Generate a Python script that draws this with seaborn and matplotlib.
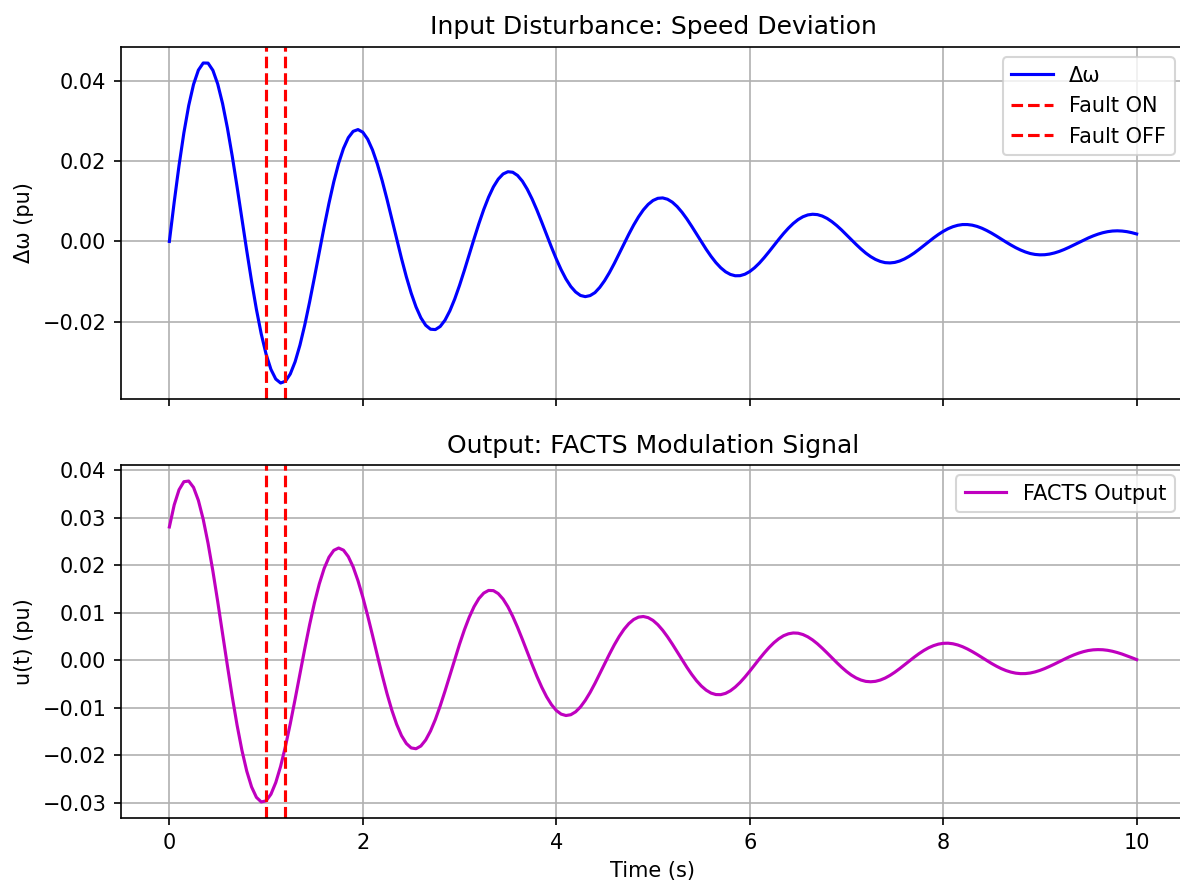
import numpy as np
import pandas as pd
import matplotlib
matplotlib.use("Agg")
import matplotlib.pyplot as plt
import seaborn as sns

# Time grid (s), 0.05 s steps from 0 to 10
time_s = np.linspace(0, 10, 201)

# Speed deviation (pu) at 0.05 s steps
delta_omega = [
    0.0, 0.00979, 0.01889, 0.02699, 0.03378, 0.03904, 0.04259, 0.04436, 0.04433, 0.04254,
    0.03913, 0.03428, 0.02821, 0.02121, 0.01358, 0.00563, -0.00230, -0.00990, -0.01689, -0.02301,
    -0.02803, -0.03180, -0.03421, -0.03519, -0.03475, -0.03295, -0.02991, -0.02577, -0.02074, -0.01503,
    -0.00891, -0.00261, 0.00360, 0.00949, 0.01484, 0.01944, 0.02312, 0.02579, 0.02737, 0.02781,
    0.02715, 0.02543, 0.02276, 0.01927, 0.01512, 0.01049, 0.00559, 0.00061, -0.00424, -0.00879,
    -0.01285, -0.01628, -0.01897, -0.02084, -0.02182, -0.02191, -0.02114, -0.01956, -0.01724, -0.01432,
    -0.01091, -0.00717, -0.00327, 0.00065, 0.00443, 0.00793, 0.01100, 0.01356, 0.01549, 0.01677,
    0.01733, 0.01720, 0.01640, 0.01497, 0.01298, 0.01056, 0.00779, 0.00478, 0.00167, -0.00141,
    -0.00434, -0.00701, -0.00933, -0.01120, -0.01256, -0.01343, -0.01372, -0.01346, -0.01272, -0.01141,
    -0.00973, -0.00772, -0.00547, -0.00306, -0.00061, 0.00180, 0.00407, 0.00610, 0.00784, 0.00921,
    0.01018, 0.01072, 0.01082, 0.01049, 0.00976, 0.00866, 0.00725, 0.00560, 0.00377, 0.00185,
    -0.00009, -0.00196, -0.00370, -0.00525, -0.00654, -0.00754, -0.00820, -0.00853, -0.00851, -0.00815,
    -0.00748, -0.00654, -0.00537, -0.00401, -0.00254, -0.00102, 0.00051, 0.00197, 0.00330, 0.00447,
    0.00543, 0.00614, 0.00659, 0.00676, 0.00667, 0.00631, 0.00572, 0.00491, 0.00394, 0.00284,
    0.00166, 0.00045, -0.00074, -0.00187, -0.00290, -0.00377, -0.00447, -0.00497, -0.00527, -0.00534,
    -0.00521, -0.00487, -0.00435, -0.00367, -0.00288, -0.00198, -0.00103, -0.00008, 0.00086, 0.00173,
    0.00250, 0.00316, 0.00366, 0.00401, 0.00420, 0.00420, 0.00405, 0.00374, 0.00329, 0.00272,
    0.00207, 0.00135, 0.00059, -0.00016, -0.00088, -0.00155, -0.00213, -0.00262, -0.00300, -0.00323,
    -0.00333, -0.00330, -0.00314, -0.00286, -0.00248, -0.00201, -0.00147, -0.00089, -0.00029, 0.00030,
    0.00086, 0.00137, 0.00181, 0.00217, 0.00243, 0.00259, 0.00264, 0.00258, 0.00243, 0.00218,
    0.00186,
]

# FACTS modulation signal (pu) at 0.05 s steps
facts_u = [
    0.02802, 0.03265, 0.03584, 0.03753, 0.03767, 0.03633, 0.03360, 0.02962, 0.02458, 0.01873,
    0.01231, 0.00559, -0.00115, -0.00765, -0.01365, -0.01893, -0.02331, -0.02664, -0.02883, -0.02980,
    -0.02957, -0.02818, -0.02572, -0.02232, -0.01813, -0.01335, -0.00819, -0.00286, 0.00244, 0.00747,
    0.01207, 0.01604, 0.01928, 0.02165, 0.02310, 0.02359, 0.02314, 0.02178, 0.01962, 0.01672,
    0.01326, 0.00938, 0.00525, 0.00102, -0.00311, -0.00701, -0.01051, -0.01349, -0.01586, -0.01751,
    -0.01844, -0.01861, -0.01804, -0.01677, -0.01488, -0.01246, -0.00961, -0.00647, -0.00317, 0.00016,
    0.00338, 0.00638, 0.00904, 0.01126, 0.01297, 0.01411, 0.01467, 0.01463, 0.01401, 0.01286,
    0.01124, 0.00922, 0.00689, 0.00436, 0.00174, -0.00088, -0.00339, -0.00568, -0.00769, -0.00933,
    -0.01056, -0.01133, -0.01163, -0.01146, -0.01085, -0.00983, -0.00844, -0.00677, -0.00487, -0.00284,
    -0.00076, 0.00129, 0.00323, 0.00498, 0.00649, 0.00769, 0.00856, 0.00906, 0.00919, 0.00895,
    0.00837, 0.00747, 0.00630, 0.00492, 0.00339, 0.00177, 0.00012, -0.00148, -0.00297, -0.00431,
    -0.00543, -0.00630, -0.00691, -0.00722, -0.00724, -0.00697, -0.00643, -0.00565, -0.00468, -0.00355,
    -0.00231, -0.00102, 0.00028, 0.00152, 0.00267, 0.00368, 0.00451, 0.00515, 0.00555, 0.00573,
    0.00568, 0.00540, 0.00492, 0.00426, 0.00345, 0.00252, 0.00153, 0.00050, -0.00051, -0.00148,
    -0.00236, -0.00312, -0.00373, -0.00417, -0.00445, -0.00453, -0.00444, -0.00417, -0.00375, -0.00319,
    -0.00252, -0.00177, -0.00097, -0.00016, 0.00063, 0.00138, 0.00205, 0.00262, 0.00306, 0.00338,
    0.00355, 0.00358, 0.00346, 0.00321, 0.00284, 0.00237, 0.00182, 0.00122, 0.00058, -0.00006,
    -0.00068, -0.00125, -0.00176, -0.00218, -0.00250, -0.00272, -0.00282, -0.00281, -0.00269, -0.00246,
    -0.00214, -0.00175, -0.00130, -0.00082, -0.00031, 0.00019, 0.00067, 0.00111, 0.00149, 0.00180,
    0.00204, 0.00218, 0.00223, 0.00220, 0.00208, 0.00188, 0.00161, 0.00129, 0.00092, 0.00053,
    0.00013,
]

fault_on = 1.0
fault_off = 1.2

df = pd.DataFrame({"t": time_s, "dw": delta_omega, "u": facts_u})

W, H, DPI = 1180, 882, 150
fig, (ax1, ax2) = plt.subplots(2, 1, figsize=(W / DPI, H / DPI), dpi=DPI, sharex=True)

sns.lineplot(data=df, x="t", y="dw", ax=ax1, color="b", label="Δω", linewidth=1.5)
ax1.axvline(fault_on, color="r", linestyle="--", label="Fault ON")
ax1.axvline(fault_off, color="r", linestyle="--", label="Fault OFF")
ax1.set_title("Input Disturbance: Speed Deviation")
ax1.set_ylabel("Δω (pu)")
ax1.set_xlabel("")
ax1.grid(True)
ax1.legend(loc="upper right")

sns.lineplot(data=df, x="t", y="u", ax=ax2, color="m", label="FACTS Output", linewidth=1.5)
ax2.axvline(fault_on, color="r", linestyle="--")
ax2.axvline(fault_off, color="r", linestyle="--")
ax2.set_title("Output: FACTS Modulation Signal")
ax2.set_ylabel("u(t) (pu)")
ax2.set_xlabel("Time (s)")
ax2.grid(True)
ax2.legend(loc="upper right")

def place(ax, left, right, top, bottom):
    ax.set_position([left / W, 1 - bottom / H, (right - left) / W, (bottom - top) / H])

place(ax1, 121, 1185, 47, 399)
place(ax2, 121, 1185, 465, 818)

fig.savefig("out.png", dpi=DPI)
